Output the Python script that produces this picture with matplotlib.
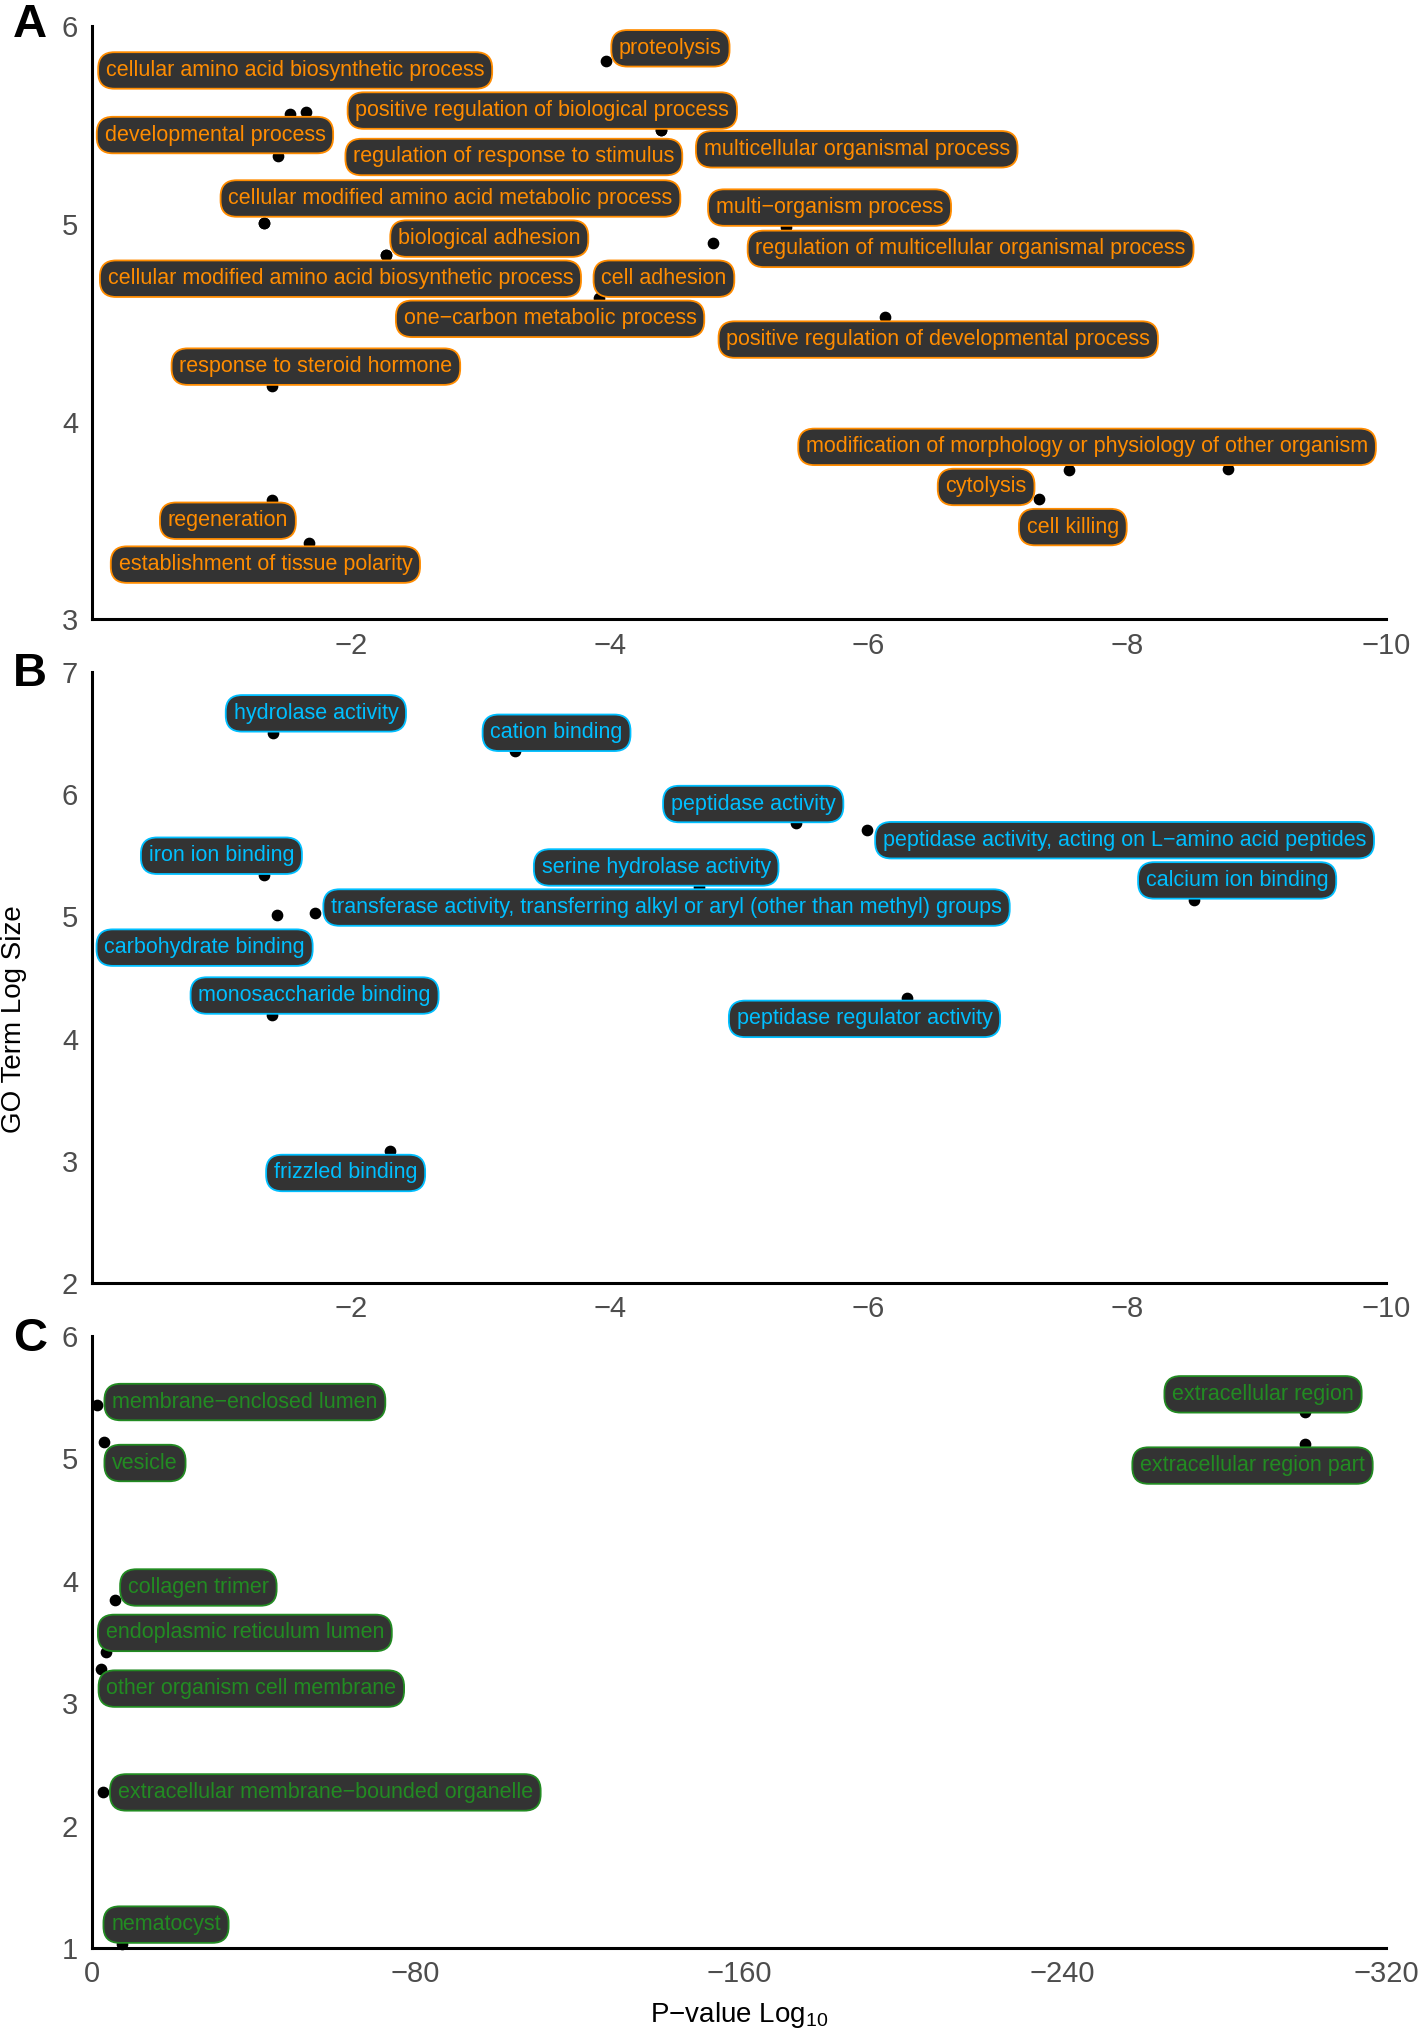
"""GO enrichment scatter: term size vs p-value, three ontologies (A/B/C)."""

import numpy as np
import matplotlib
matplotlib.use('Agg')
import matplotlib.pyplot as plt

plt.rcParams['font.family'] = ['Liberation Sans', 'DejaVu Sans']
plt.rcParams['mathtext.default'] = 'regular'

# ---- A: biological process ----
BP_TERMS = [
    'proteolysis',
    'cellular amino acid biosynthetic process',
    'positive regulation of biological process',
    'developmental process',
    'regulation of response to stimulus',
    'multicellular organismal process',
    'cellular modified amino acid metabolic process',
    'multi\u2212organism process',
    'biological adhesion',
    'regulation of multicellular organismal process',
    'cellular modified amino acid biosynthetic process',
    'cell adhesion',
    'one\u2212carbon metabolic process',
    'positive regulation of developmental process',
    'response to steroid hormone',
    'modification of morphology or physiology of other organism',
    'cytolysis',
    'cell killing',
    'regeneration',
    'establishment of tissue polarity',
]
BP_PVAL = [-3.97, -1.53, -4.40, -1.44, -4.40, -1.65, -1.33, -5.36, -2.27, -4.80,
           -1.33, -2.27, -3.92, -6.13, -1.39, -8.78, -7.55, -7.32, -1.39, -1.68]
BP_SIZE = [5.823, 5.555, 5.476, 5.345, 5.476, 5.568, 5.005, 4.985, 4.841, 4.906,
           5.005, 4.841, 4.625, 4.527, 4.179, 3.760, 3.754, 3.610, 3.603, 3.387]
# repelled label centres (data units)
BP_LAB_X = [-4.47, -1.57, -3.48, -0.95, -3.26, -5.91, -2.77, -5.70, -3.07, -6.79,
            -1.92, -4.42, -3.54, -6.54, -1.73, -7.69, -6.91, -7.58, -1.05, -1.34]
BP_LAB_Y = [5.889, 5.777, 5.574, 5.450, 5.339, 5.378, 5.129, 5.083, 4.926, 4.874,
            4.723, 4.723, 4.520, 4.415, 4.278, 3.872, 3.669, 3.466, 3.498, 3.276]

# ---- B: molecular function ----
MF_TERMS = [
    'hydrolase activity',
    'cation binding',
    'peptidase activity',
    'peptidase activity, acting on L\u2212amino acid peptides',
    'iron ion binding',
    'serine hydrolase activity',
    'transferase activity, transferring alkyl or aryl (other than methyl) groups',
    'calcium ion binding',
    'carbohydrate binding',
    'monosaccharide binding',
    'peptidase regulator activity',
    'frizzled binding',
]
MF_PVAL = [-1.40, -3.27, -5.44, -5.99, -1.33, -4.69, -1.72, -8.52, -1.43, -1.39, -6.30, -2.30]
MF_SIZE = [6.502, 6.354, 5.761, 5.708, 5.337, 5.242, 5.030, 5.136, 5.008, 4.193, 4.331, 3.081]
MF_LAB_X = [-1.73, -3.59, -5.11, -7.98, -1.00, -4.36, -4.44, -8.85, -0.87, -1.72, -5.97, -1.96]
MF_LAB_Y = [6.661, 6.502, 5.919, 5.623, 5.496, 5.400, 5.072, 5.294, 4.744, 4.352, 4.161, 2.900]

# ---- C: cellular component ----
CC_TERMS = [
    'membrane\u2212enclosed lumen',
    'vesicle',
    'collagen trimer',
    'endoplasmic reticulum lumen',
    'other organism cell membrane',
    'extracellular membrane\u2212bounded organelle',
    'nematocyst',
    'extracellular region',
    'extracellular region part',
]
CC_PVAL = [-1.3, -2.9, -5.8, -3.5, -2.2, -2.6, -7.4, -300.1, -300.1]
CC_SIZE = [5.439, 5.131, 3.839, 3.415, 3.278, 2.271, 1.032, 5.375, 5.121]
CC_LAB_X = [-37.8, -13.1, -26.3, -37.8, -39.4, -57.7, -18.3, -289.6, -287.0]
CC_LAB_Y = [5.460, 4.962, 3.945, 3.574, 3.119, 2.271, 1.191, 5.523, 4.941]

BOX_FILL = '#333333'
TICK_GREY = '#4d4d4d'


def draw_panel(ax, pval, size, terms, lab_x, lab_y, color, xlim, ylim, xticks, yticks):
    ax.scatter(pval, size, s=55, color='black', zorder=2, clip_on=False)
    for t, lx, ly in zip(terms, lab_x, lab_y):
        ax.text(lx, ly, t, ha='center', va='center', color=color, fontsize=15.5,
                zorder=3, clip_on=False,
                bbox=dict(boxstyle='round,pad=0.36,rounding_size=0.75',
                          facecolor=BOX_FILL, edgecolor=color, linewidth=1.3))
    ax.set_xlim(*xlim)
    ax.set_ylim(*ylim)
    ax.set_xticks(xticks)
    ax.set_yticks(yticks)
    for side in ('top', 'right'):
        ax.spines[side].set_visible(False)
    for side in ('left', 'bottom'):
        ax.spines[side].set_linewidth(2.2)
        ax.spines[side].set_color('black')
    ax.tick_params(length=0, labelsize=21, labelcolor=TICK_GREY)
    ax.tick_params(axis='x', pad=9)
    ax.tick_params(axis='y', pad=10)


fig = plt.figure(figsize=(14.18, 20.30), dpi=100)
left, width = 0.0649, 0.9125
ax_a = fig.add_axes([left, 0.695, width, 0.292])
ax_b = fig.add_axes([left, 0.368, width, 0.301])
ax_c = fig.add_axes([left, 0.0404, width, 0.3015])

draw_panel(ax_a, BP_PVAL, BP_SIZE, BP_TERMS, BP_LAB_X, BP_LAB_Y, '#FF8C00',
           (0, -10), (3, 6), [-2, -4, -6, -8, -10], [3, 4, 5, 6])
draw_panel(ax_b, MF_PVAL, MF_SIZE, MF_TERMS, MF_LAB_X, MF_LAB_Y, '#00BFFF',
           (0, -10), (2, 7), [-2, -4, -6, -8, -10], [2, 3, 4, 5, 6, 7])
draw_panel(ax_c, CC_PVAL, CC_SIZE, CC_TERMS, CC_LAB_X, CC_LAB_Y, '#228B22',
           (0, -320), (1, 6), [0, -80, -160, -240, -320], [1, 2, 3, 4, 5, 6])

for letter, ypos in (('A', 0.9987), ('B', 0.679), ('C', 0.351)):
    fig.text(0.009, ypos, letter, fontsize=34, fontweight='bold', va='top', ha='left')

fig.text(0.010, 0.498, 'GO Term Log Size', rotation=90, fontsize=20,
         ha='center', va='center')
fig.text(left + width / 2, 0.004, 'P\u2212value Log$_{10}$', fontsize=20,
         ha='center', va='baseline')

fig.savefig('out.png', dpi=100)
plt.close(fig)
